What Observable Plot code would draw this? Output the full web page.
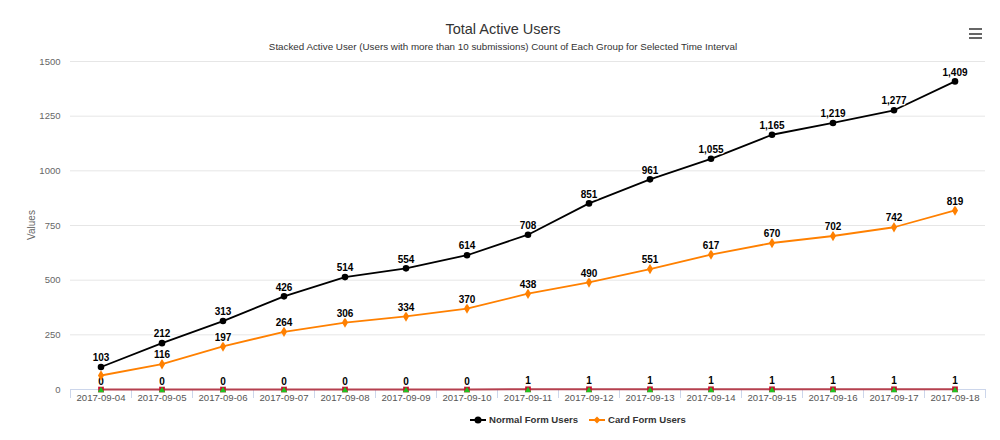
<!DOCTYPE html>
<html>
<head>
<meta charset="utf-8">
<script src="https://cdn.jsdelivr.net/npm/d3@7"></script>
<script src="https://cdn.jsdelivr.net/npm/@observablehq/plot@0.6"></script>
<style>
  body { margin: 0; background: #fff; font-family: "Liberation Sans", Arial, sans-serif; }
  #wrap { position: relative; width: 1000px; height: 440px; overflow: hidden; }
  #title { position: absolute; top: 21px; left: 0; width: 1006px; text-align: center; font-size: 14.5px; color: #333; }
  #subtitle { position: absolute; top: 41px; left: 0; width: 1006px; text-align: center; font-size: 9.8px; color: #333; }
  #chart { position: absolute; top: 50px; left: 0; }
  #ylabel { position: absolute; left: 31px; top: 225px; transform: translate(-50%, -50%) rotate(-90deg); font-size: 10px; color: #666; }
  #legend { position: absolute; top: 414px; left: 470px; font-size: 9.6px; font-weight: bold; color: #333; display: flex; gap: 11px; white-space: nowrap; }
  .item { display: flex; align-items: center; gap: 3px; }
  #menu { position: absolute; left: 969px; top: 28px; width: 13px; }
  #menu div { height: 2px; background: #666; margin-bottom: 2.5px; }
</style>
</head>
<body>
<div id="wrap">
  <div id="title">Total Active Users</div>
  <div id="subtitle">Stacked Active User (Users with more than 10 submissions) Count of Each Group for Selected Time Interval</div>
  <div id="menu"><div></div><div></div><div></div></div>
  <div id="chart"></div>
  <div id="ylabel">Values</div>
  <div id="legend"></div>
</div>
<script>
const dates = ["2017-09-04","2017-09-05","2017-09-06","2017-09-07","2017-09-08","2017-09-09","2017-09-10","2017-09-11","2017-09-12","2017-09-13","2017-09-14","2017-09-15","2017-09-16","2017-09-17","2017-09-18"];
const normalUsers = [103,212,313,426,514,554,614,708,851,961,1055,1165,1219,1277,1409];
const cardUsers = [64,116,197,264,306,334,370,438,490,551,617,670,702,742,819];
const otherUsers = [0,0,0,0,0,0,0,1,1,1,1,1,1,1,1];
const otherUsers2 = [0,0,0,0,0,0,0,0,0,0,0,0,0,0,0];
const yTicks = [0,250,500,750,1000,1250,1500];
const seriesNames = ["Normal Form Users","Card Form Users"];
const seriesColors = ["#000000","#ff8000"];

const idx = dates.map((d,i)=>i);
const bounds = dates.map((d,i)=>i-0.5).concat([dates.length-0.5]);
const normalRows = normalUsers.map((v,i)=>({i, v}));
const cardRows = cardUsers.map((v,i)=>({i, v}));
const otherRows = otherUsers.map((v,i)=>({i, v}));
const otherRows2 = otherUsers2.map((v,i)=>({i, v}));
const fmt = d3.format(",");

const labelStyle = {fontWeight:"bold", fontSize:10, fill:"#000", stroke:"#fff", strokeWidth:2.5, paintOrder:"stroke"};

const chart = Plot.plot({
  width: 1000,
  height: 365,
  marginTop: 11,
  marginBottom: 26,
  marginLeft: 70,
  marginRight: 15,
  style: {fontFamily: "Liberation Sans, Arial, sans-serif", fontSize: "9.5px", color: "#666", background: "transparent"},
  x: {type: "linear", domain: [-0.5, dates.length - 0.5]},
  y: {domain: [0, 1500]},
  marks: [
    Plot.gridY(yTicks, {stroke: "#e6e6e6", strokeOpacity: 1}),
    Plot.axisY(yTicks, {tickSize: 0, tickPadding: 10, label: null, fill: "#666", tickFormat: d => String(d)}),
    Plot.axisX(bounds, {tickSize: 9, tickFormat: () => "", stroke: "#ccd6eb", label: null}),
    Plot.axisX(idx, {tickSize: 0, tickPadding: 5, tickFormat: i => dates[i], label: null, fill: "#555", fontSize: 9.6}),
    Plot.ruleY([0], {stroke: "#ccd6eb"}),
    // low series
    Plot.line(otherRows, {x: "i", y: "v", stroke: "#b5404f", strokeWidth: 2}),
    Plot.dot(otherRows, {x: "i", y: "v", symbol: "square", r: 3.2, fill: "#c8102e", stroke: "none"}),
    Plot.dot(otherRows2, {x: "i", y: "v", symbol: "triangle", r: 2.4, dy: 1, fill: "#22c022", stroke: "none"}),
    Plot.text(otherRows, {x: "i", y: "v", text: d => fmt(d.v), dy: -8, ...labelStyle}),
    // card users
    Plot.line(cardRows, {x: "i", y: "v", stroke: seriesColors[1], strokeWidth: 1.8}),
    Plot.dot(cardRows, {x: "i", y: "v", symbol: "diamond", r: 3.2, fill: seriesColors[1], stroke: "none"}),
    Plot.text(cardRows.filter(d => d.i > 0), {x: "i", y: "v", text: d => fmt(d.v), dy: -9, ...labelStyle}),
    // normal users
    Plot.line(normalRows, {x: "i", y: "v", stroke: seriesColors[0], strokeWidth: 1.8}),
    Plot.dot(normalRows, {x: "i", y: "v", r: 3.3, fill: seriesColors[0], stroke: "none"}),
    Plot.text(normalRows, {x: "i", y: "v", text: d => fmt(d.v), dy: -9, ...labelStyle})
  ]
});
document.getElementById("chart").appendChild(chart);

// legend
const legend = document.getElementById("legend");
seriesNames.forEach((name, k) => {
  const item = document.createElement("div");
  item.className = "item";
  const sym = k === 0
    ? `<svg width="16" height="10"><line x1="0" y1="5" x2="16" y2="5" stroke="${seriesColors[k]}" stroke-width="2"/><circle cx="8" cy="5" r="3.5" fill="${seriesColors[k]}"/></svg>`
    : `<svg width="16" height="10"><line x1="0" y1="5" x2="16" y2="5" stroke="${seriesColors[k]}" stroke-width="2"/><path d="M8 1.5 L11.5 5 L8 8.5 L4.5 5 Z" fill="${seriesColors[k]}"/></svg>`;
  item.innerHTML = sym + `<span>${name}</span>`;
  legend.appendChild(item);
});
</script>
</body>
</html>
